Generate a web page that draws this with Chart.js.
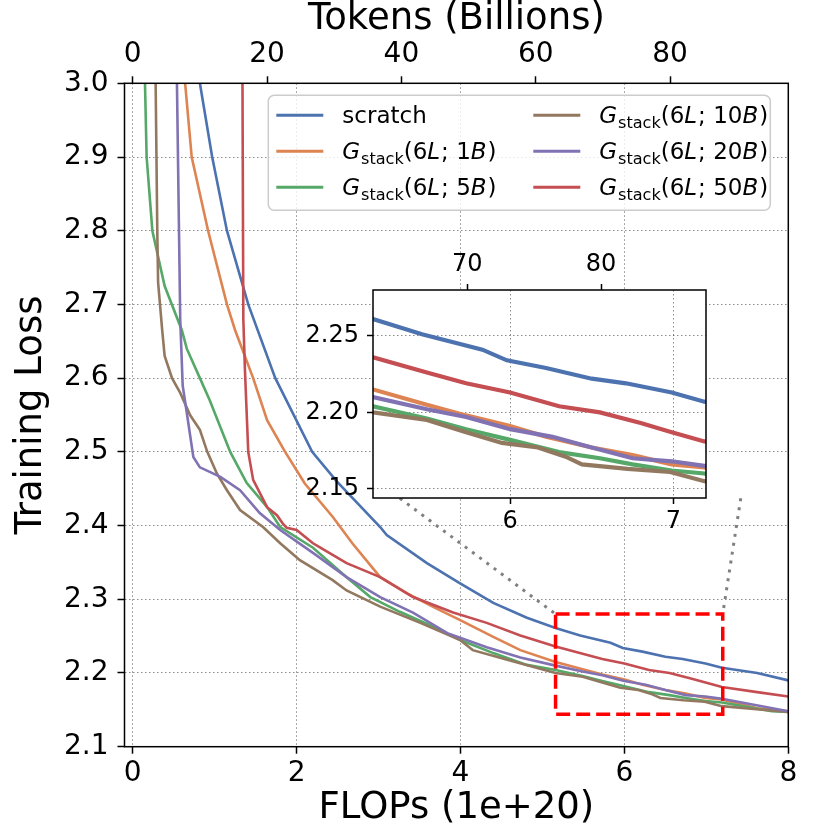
<!DOCTYPE html>
<html>
<head>
<meta charset="utf-8">
<script src="https://cdn.jsdelivr.net/npm/chart.js@4.4.0/dist/chart.umd.min.js"></script>
<style>
  html, body { margin: 0; padding: 0; background: #fff; }
  #wrap { position: relative; width: 830px; height: 830px; }
  #main { position: absolute; left: 0; top: 0; width: 830px; height: 830px; }
  #inset { position: absolute; left: 290px; top: 240px; width: 440px; height: 300px; }
</style>
</head>
<body>
<div id="wrap">
  <canvas id="main" width="830" height="830"></canvas>
  <canvas id="inset" width="440" height="300"></canvas>
</div>
<script>
const FONT = '"DejaVu Sans"';

// axis ticks
const flopTicks = [0, 2, 4, 6, 8];
const tokenTicks = [0, 20, 40, 60, 80];
const lossTicks = [2.1, 2.2, 2.3, 2.4, 2.5, 2.6, 2.7, 2.8, 2.9, 3.0];
const insetFlopTicks = [6, 7];
const insetTokenTicks = [70, 80];
const insetLossTicks = [2.15, 2.20, 2.25];

// ranges
const tokensPerFlop = 12.2; // 1e20 FLOPs ~ 12.2B tokens
const flopRange = [-0.1, 8];
const lossRange = [2.1, 3.0];
const zoomFlops = [5.16, 7.2];
const zoomLoss = [2.144, 2.28];
const connectorEnds = [[3.26, 2.437], [7.42, 2.437]];

// series: [FLOPs (1e20), training loss]
const seriesLabels = ['scratch', 'G_{stack}(6L; 1B)', 'G_{stack}(6L; 5B)',
  'G_{stack}(6L; 10B)', 'G_{stack}(6L; 20B)', 'G_{stack}(6L; 50B)'];
const seriesColors = ['#4c72b0', '#dd8452', '#55a868', '#937860', '#8172b3', '#c44e52'];

const scratch = [[0.77, 3.10], [0.82, 3.00], [0.97, 2.90], [1.15, 2.80], [1.41, 2.70],
  [1.74, 2.60], [2.19, 2.50], [2.49, 2.46], [3.02, 2.398], [3.10, 2.387], [3.59, 2.349],
  [3.99, 2.322], [4.40, 2.295], [4.81, 2.275], [5.16, 2.261], [5.46, 2.251], [5.83, 2.241],
  [5.98, 2.234], [6.22, 2.229], [6.50, 2.222], [6.71, 2.219], [6.99, 2.213], [7.19, 2.207],
  [7.62, 2.200], [8.00, 2.190]];
const stack1B = [[0.60, 3.10], [0.64, 3.00], [0.72, 2.90], [0.92, 2.80], [1.15, 2.70],
  [1.25, 2.665], [1.47, 2.60], [1.64, 2.543], [1.86, 2.50], [2.10, 2.457], [2.44, 2.412],
  [2.68, 2.376], [3.02, 2.33], [3.35, 2.308], [3.66, 2.29], [3.99, 2.272], [4.40, 2.249],
  [4.73, 2.231], [5.16, 2.215], [5.49, 2.205], [5.73, 2.198], [6.00, 2.191], [6.22, 2.184],
  [6.50, 2.177], [6.75, 2.172], [6.99, 2.166], [7.19, 2.164], [7.62, 2.152], [8.00, 2.148]];
const stack5B = [[0.14, 3.10], [0.15, 3.00], [0.17, 2.90], [0.24, 2.80], [0.39, 2.725],
  [0.60, 2.665], [0.66, 2.64], [0.82, 2.60], [0.94, 2.57], [1.19, 2.50], [1.39, 2.458],
  [1.64, 2.425], [1.80, 2.398], [2.20, 2.37], [2.61, 2.33], [2.90, 2.303], [3.26, 2.283],
  [3.66, 2.263], [3.99, 2.245], [4.40, 2.227], [4.81, 2.211], [5.16, 2.204], [5.49, 2.196],
  [5.73, 2.189], [6.00, 2.182], [6.30, 2.174], [6.55, 2.170], [6.75, 2.166], [6.99, 2.162],
  [7.19, 2.160], [7.80, 2.148], [8.00, 2.147]];
const stack10B = [[0.27, 3.10], [0.28, 3.00], [0.29, 2.90], [0.30, 2.80], [0.31, 2.73],
  [0.36, 2.665], [0.39, 2.63], [0.48, 2.60], [0.58, 2.58], [0.70, 2.55], [0.82, 2.53],
  [0.91, 2.50], [1.03, 2.47], [1.15, 2.448], [1.31, 2.421], [1.59, 2.398], [1.80, 2.376],
  [2.04, 2.353], [2.44, 2.326], [2.61, 2.312], [3.02, 2.29], [3.51, 2.268], [3.99, 2.245],
  [4.15, 2.231], [4.57, 2.218], [5.16, 2.200], [5.49, 2.195], [5.73, 2.187], [5.95, 2.180],
  [6.17, 2.177], [6.34, 2.171], [6.44, 2.166], [6.72, 2.163], [6.98, 2.161], [7.19, 2.155],
  [8.00, 2.147]];
const stack20B = [[0.53, 3.10], [0.54, 3.00], [0.58, 2.68], [0.61, 2.59], [0.66, 2.553],
  [0.74, 2.493], [0.82, 2.479], [1.07, 2.466], [1.31, 2.448], [1.55, 2.417], [1.80, 2.394],
  [2.20, 2.363], [2.61, 2.33], [3.02, 2.303], [3.42, 2.282], [3.84, 2.254], [4.32, 2.235],
  [4.73, 2.221], [5.16, 2.210], [5.49, 2.202], [5.73, 2.197], [6.00, 2.189], [6.26, 2.184],
  [6.50, 2.177], [6.75, 2.170], [6.99, 2.168], [7.19, 2.165], [8.00, 2.148]];
const stack50B = [[1.33, 3.30], [1.35, 2.68], [1.37, 2.61], [1.41, 2.50], [1.47, 2.462],
  [1.64, 2.425], [1.76, 2.414], [1.83, 2.403], [1.88, 2.397], [2.00, 2.394], [2.20, 2.376],
  [2.29, 2.37], [2.61, 2.349], [3.02, 2.33], [3.42, 2.303], [3.91, 2.282], [4.32, 2.268],
  [4.73, 2.251], [5.16, 2.236], [5.49, 2.226], [5.73, 2.219], [6.00, 2.213], [6.30, 2.204],
  [6.55, 2.200], [6.80, 2.193], [6.99, 2.187], [7.19, 2.181], [7.62, 2.174], [8.00, 2.168]];

const seriesData = [scratch, stack1B, stack5B, stack10B, stack20B, stack50B];

// build line datasets; later series drawn on top like matplotlib
function lineDatasets(width) {
  return seriesData.map((pts, i) => ({
    label: seriesLabels[i],
    data: pts.map(([x, y]) => ({ x, y })),
    borderColor: seriesColors[i],
    borderWidth: width,
    pointRadius: 0,
    tension: 0,
    fill: false,
    clip: 0,
    order: seriesData.length - i
  }));
}

// draws a mathtext-like label: letters italic, _{..} as roman subscript
function drawMathLabel(ctx, text, x, y, size) {
  ctx.textBaseline = 'alphabetic';
  ctx.textAlign = 'left';
  if (!text.includes('_')) {
    ctx.font = size + 'px ' + FONT;
    ctx.fillText(text, x, y);
    return;
  }
  let i = 0;
  while (i < text.length) {
    const ch = text[i];
    if (ch === '_' && text[i + 1] === '{') {
      const end = text.indexOf('}', i);
      const sub = text.slice(i + 2, end);
      ctx.font = (size * 0.7) + 'px ' + FONT;
      ctx.fillText(sub, x, y + size * 0.22);
      x += ctx.measureText(sub).width;
      i = end + 1;
      continue;
    }
    const italic = /[A-Za-z]/.test(ch);
    ctx.font = (italic ? 'italic ' : '') + size + 'px ' + FONT;
    ctx.fillText(ch, x, y);
    x += ctx.measureText(ch).width + (italic ? size * 0.04 : 0);
    i++;
  }
}

const framePlugin = {
  id: 'frame',
  beforeDraw(chart, args, opts) {
    if (!opts.fill) return;
    const a = chart.chartArea, ctx = chart.ctx;
    ctx.save();
    ctx.fillStyle = opts.fill;
    ctx.fillRect(a.left, a.top, a.right - a.left, a.bottom - a.top);
    ctx.restore();
  },
  afterDatasetsDraw(chart) {
    const a = chart.chartArea, ctx = chart.ctx;
    ctx.save();
    ctx.strokeStyle = '#000';
    ctx.lineWidth = 1.5;
    ctx.strokeRect(a.left, a.top, a.right - a.left, a.bottom - a.top);
    ctx.restore();
  }
};

const legendPlugin = {
  id: 'mathLegend',
  afterDraw(chart) {
    const a = chart.chartArea, ctx = chart.ctx;
    const w = 502, h = 115, size = 23;
    const left = a.right - 18 - w, top = a.top + 12;
    ctx.save();
    ctx.beginPath();
    ctx.roundRect(left, top, w, h, 6);
    ctx.fillStyle = 'rgba(255,255,255,0.8)';
    ctx.fill();
    ctx.strokeStyle = '#cccccc';
    ctx.lineWidth = 1.5;
    ctx.stroke();
    seriesLabels.forEach((lab, i) => {
      const col = Math.floor(i / 3), row = i % 3;
      const x0 = left + 8 + col * 257;
      const y0 = top + 20 + row * 36;
      ctx.strokeStyle = seriesColors[i];
      ctx.lineWidth = 3;
      ctx.beginPath();
      ctx.moveTo(x0, y0);
      ctx.lineTo(x0 + 47, y0);
      ctx.stroke();
      ctx.fillStyle = '#000';
      drawMathLabel(ctx, lab, x0 + 66, y0 + 8, size);
    });
    ctx.restore();
  }
};

const gridOpts = (tickLen) => ({
  color: 'rgba(0,0,0,0.45)',
  lineWidth: 1,
  tickColor: '#000',
  tickWidth: 1.5,
  tickLength: tickLen,
  tickBorderDash: []
});
const gridDash = { display: false, dash: [1.5, 2.5] };
const setTicks = (vals) => (s) => { s.ticks = vals.map(v => ({ value: v })); };

// main chart
const zoomBox = [[zoomFlops[0], zoomLoss[1]], [zoomFlops[1], zoomLoss[1]],
  [zoomFlops[1], zoomLoss[0]], [zoomFlops[0], zoomLoss[0]], [zoomFlops[0], zoomLoss[1]]];

const mainDatasets = lineDatasets(2.6).concat([
  {
    data: zoomBox.map(([x, y]) => ({ x, y })),
    borderColor: '#ff0000', borderWidth: 3.5, borderDash: [14, 6],
    pointRadius: 0, tension: 0, fill: false, order: 0
  },
  {
    data: [{ x: connectorEnds[0][0], y: connectorEnds[0][1] }, { x: zoomFlops[0], y: zoomLoss[1] }],
    borderColor: '#808080', borderWidth: 3, borderDash: [3, 6],
    pointRadius: 0, fill: false, order: 0
  },
  {
    data: [{ x: connectorEnds[1][0], y: connectorEnds[1][1] }, { x: zoomFlops[1], y: zoomLoss[1] }],
    borderColor: '#808080', borderWidth: 3, borderDash: [3, 6],
    pointRadius: 0, fill: false, order: 0
  }
]);

new Chart(document.getElementById('main'), {
  type: 'line',
  data: { datasets: mainDatasets },
  options: {
    responsive: false,
    animation: false,
    events: [],
    layout: { padding: { right: 41.7, left: 0, top: 0, bottom: 0 } },
    plugins: { legend: { display: false }, tooltip: { enabled: false }, frame: {} },
    scales: {
      x: {
        type: 'linear', position: 'bottom', min: flopRange[0], max: flopRange[1],
        afterBuildTicks: setTicks(flopTicks),
        afterFit: (s) => { s.height = 83.3; },
        ticks: { font: { family: FONT, size: 28 }, color: '#000', padding: 3, maxRotation: 0, autoSkip: false,
          callback: (v) => String(v) },
        grid: gridOpts(7),
        border: gridDash,
        title: { display: true, text: 'FLOPs (1e+20)', color: '#000',
          font: { family: FONT, size: 37, lineHeight: 1 }, padding: { top: 0, bottom: 3 } }
      },
      x2: {
        type: 'linear', position: 'top',
        min: flopRange[0] * tokensPerFlop, max: flopRange[1] * tokensPerFlop,
        afterBuildTicks: setTicks(tokenTicks),
        afterFit: (s) => { s.height = 83.3; },
        ticks: { font: { family: FONT, size: 28 }, color: '#000', padding: 5, maxRotation: 0, autoSkip: false,
          callback: (v) => String(v) },
        grid: Object.assign(gridOpts(7), { drawOnChartArea: false }),
        border: { display: false },
        title: { display: true, text: 'Tokens (Billions)', color: '#000',
          font: { family: FONT, size: 37, lineHeight: 1 }, padding: { top: 1, bottom: 0 } }
      },
      y: {
        type: 'linear', position: 'left', min: lossRange[0], max: lossRange[1],
        afterBuildTicks: setTicks(lossTicks),
        afterFit: (s) => { s.width = 124.5; },
        ticks: { font: { family: FONT, size: 28 }, color: '#000', padding: 9, autoSkip: false,
          callback: (v) => v.toFixed(1) },
        grid: gridOpts(7),
        border: gridDash,
        title: { display: true, text: 'Training Loss', color: '#000',
          font: { family: FONT, size: 37, lineHeight: 1 }, padding: { top: 13, bottom: 0 } }
      }
    }
  },
  plugins: [framePlugin, legendPlugin]
});

// inset zoom
new Chart(document.getElementById('inset'), {
  type: 'line',
  data: { datasets: lineDatasets(4.2) },
  options: {
    responsive: false,
    animation: false,
    events: [],
    layout: { padding: { right: 24, left: 0, top: 0, bottom: 0 } },
    plugins: { legend: { display: false }, tooltip: { enabled: false }, frame: { fill: '#ffffff' } },
    scales: {
      x: {
        type: 'linear', position: 'bottom', min: zoomFlops[0], max: zoomFlops[1],
        afterBuildTicks: setTicks(insetFlopTicks),
        afterFit: (s) => { s.height = 42; },
        ticks: { font: { family: FONT, size: 24 }, color: '#000', padding: 3, maxRotation: 0, autoSkip: false,
          callback: (v) => String(v) },
        grid: gridOpts(6),
        border: gridDash
      },
      x2: {
        type: 'linear', position: 'top',
        min: zoomFlops[0] * tokensPerFlop, max: zoomFlops[1] * tokensPerFlop,
        afterBuildTicks: setTicks(insetTokenTicks),
        afterFit: (s) => { s.height = 50; },
        ticks: { font: { family: FONT, size: 24 }, color: '#000', padding: 5, maxRotation: 0, autoSkip: false,
          callback: (v) => String(v) },
        grid: Object.assign(gridOpts(6), { drawOnChartArea: false }),
        border: { display: false }
      },
      y: {
        type: 'linear', position: 'left', min: zoomLoss[0], max: zoomLoss[1],
        afterBuildTicks: setTicks(insetLossTicks),
        afterFit: (s) => { s.width = 83; },
        ticks: { font: { family: FONT, size: 24 }, color: '#000', padding: 8, autoSkip: false,
          callback: (v) => v.toFixed(2) },
        grid: gridOpts(6),
        border: gridDash
      }
    }
  },
  plugins: [framePlugin]
});
</script>
</body>
</html>
